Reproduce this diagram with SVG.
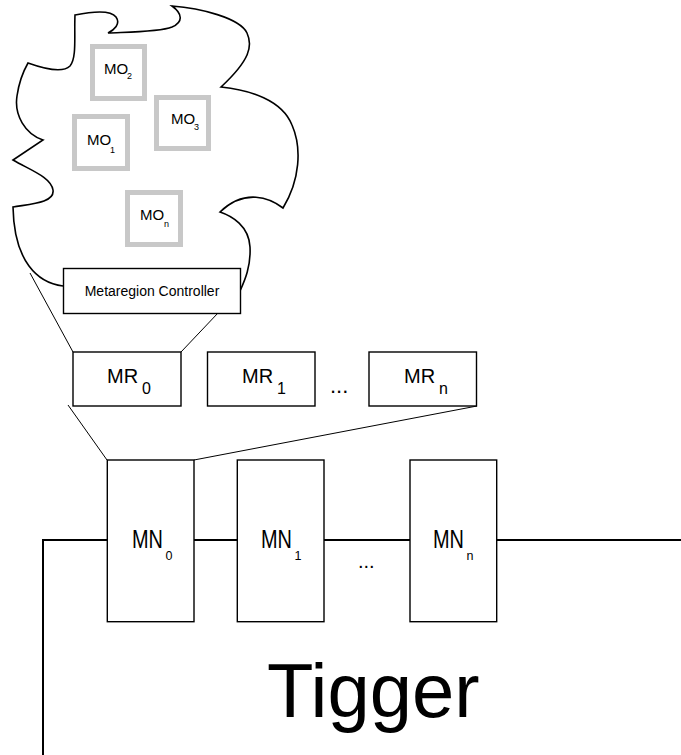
<svg xmlns="http://www.w3.org/2000/svg" width="681" height="755" viewBox="0 0 681 755">
<style>
text{font-family:"Liberation Sans",Arial,sans-serif;fill:#000}
.box{fill:#fff;stroke:#000;stroke-width:1.4}
.mo{fill:#fff;stroke:#c8c8c8;stroke-width:5}
.thin{stroke:#000;stroke-width:1;fill:none}
.bus{stroke:#000;stroke-width:2;fill:none}
</style>
<rect width="681" height="755" fill="#fff"/>
<g id="cloud">
<path d="M63,286 C38,283 14,262 13,207 C30,204 55,203 53,190 C51,177 30,170 13,160 L43,140 C25,134 14,115 17,96 C19,82 24,70 28,63 C42,68 62,74 70,66 C77,58 74,35 75,15 C90,12 110,9 116,17 C121,24 114,30 108,33 C130,32 160,32 172,27 C183,22 183,14 172,6 C200,8 240,18 247,33 C253,46 250,60 221,87 C250,90 282,100 292,125 C302,148 300,180 283,208 C270,198 245,188 220,212 C232,216 249,226 250,247 C251,266 245,280 240,291" fill="none" stroke="#000" stroke-width="1.6"/>
</g>
<g id="connectors">
<line class="thin" x1="30" y1="273" x2="73" y2="352"/>
<line class="thin" x1="218" y1="313" x2="181" y2="352"/>
<line class="thin" x1="68" y1="405" x2="107" y2="460"/>
<line class="thin" x1="477" y1="406" x2="194" y2="460"/>
<path class="bus" d="M43,755 V540 H107 M194,540 H237 M324,540 H410 M497,540 H681"/>
</g>
<g id="mo2"><rect class="mo" x="92.5" y="46.5" width="52" height="52"/><text x="104" y="74" font-size="15">MO</text><text x="127" y="79" font-size="9">2</text></g>
<g id="mo3"><rect class="mo" x="156.5" y="97.5" width="52" height="51"/><text x="171" y="124" font-size="15">MO</text><text x="194" y="130" font-size="9">3</text></g>
<g id="mo1"><rect class="mo" x="74.5" y="116.5" width="53" height="52"/><text x="87" y="145" font-size="15">MO</text><text x="110" y="153" font-size="9">1</text></g>
<g id="mon"><rect class="mo" x="127.5" y="192.5" width="53" height="52"/><text x="140" y="220" font-size="15">MO</text><text x="164" y="227" font-size="9">n</text></g>
<g id="controller"><rect class="box" x="63.5" y="268.5" width="177" height="45"/><text x="152" y="296" font-size="14" text-anchor="middle">Metaregion Controller</text></g>
<g id="mr0"><rect class="box" x="73" y="352" width="108" height="54"/><text x="107" y="383" font-size="20">MR</text><text x="142" y="394" font-size="16">0</text></g>
<g id="mr1"><rect class="box" x="207.5" y="352" width="107.5" height="54"/><text x="242" y="383" font-size="20">MR</text><text x="277" y="394" font-size="16">1</text></g>
<text x="330" y="393" font-size="22">...</text>
<g id="mrn"><rect class="box" x="369" y="352" width="107.5" height="54"/><text x="404" y="383" font-size="20">MR</text><text x="439" y="394" font-size="16">n</text></g>
<g id="mn0"><rect class="box" x="107.3" y="460" width="86.7" height="161.7"/><text x="132" y="548" font-size="25" textLength="31" lengthAdjust="spacingAndGlyphs">MN</text><text x="165.5" y="560" font-size="12" textLength="7" lengthAdjust="spacingAndGlyphs">0</text></g>
<g id="mn1"><rect class="box" x="237.3" y="460" width="86.7" height="161.7"/><text x="261" y="548" font-size="25" textLength="31" lengthAdjust="spacingAndGlyphs">MN</text><text x="294.5" y="560" font-size="12" textLength="7" lengthAdjust="spacingAndGlyphs">1</text></g>
<text x="358" y="568" font-size="20">...</text>
<g id="mnn"><rect class="box" x="410" y="460" width="86.7" height="161.7"/><text x="433" y="548" font-size="25" textLength="31" lengthAdjust="spacingAndGlyphs">MN</text><text x="466.5" y="560" font-size="12" textLength="7" lengthAdjust="spacingAndGlyphs">n</text></g>
<text x="267" y="717" font-size="76">Tigger</text>
</svg>
